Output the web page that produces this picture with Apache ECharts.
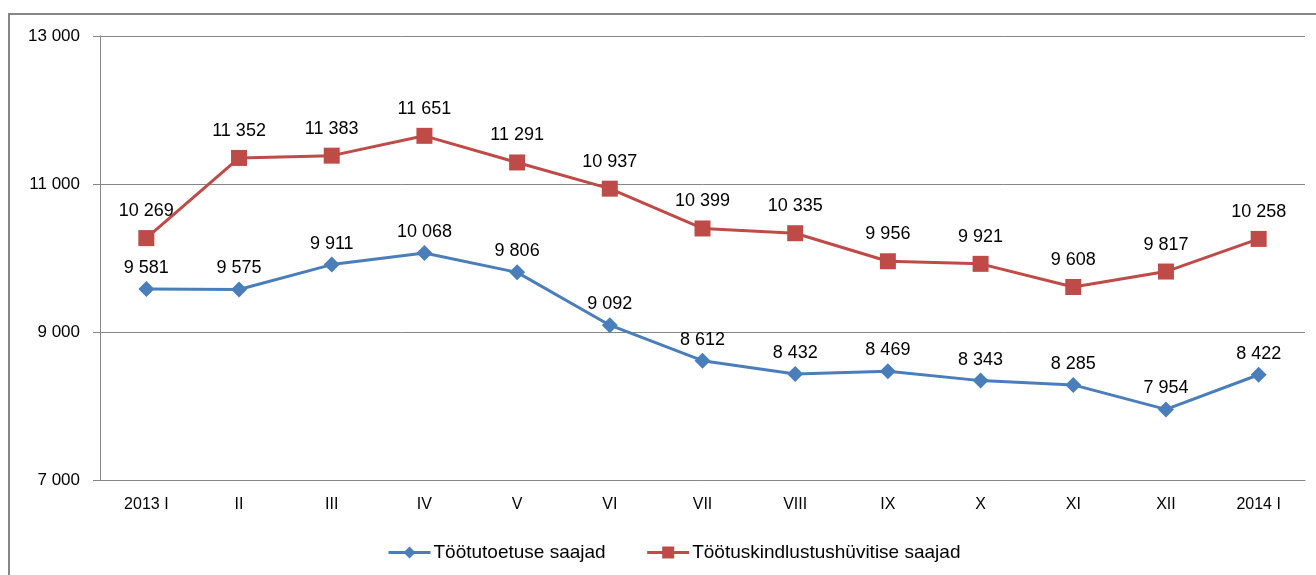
<!DOCTYPE html>
<html>
<head>
<meta charset="utf-8">
<script src="https://cdn.jsdelivr.net/npm/echarts@6/dist/echarts.min.js"></script>
<style>
  html, body { margin: 0; padding: 0; background: #fff; }
  #frame { position: absolute; left: 8px; top: 13px; width: 1320px; height: 580px; border-left: 2px solid #868686; border-top: 2px solid #868686; }
  #chart { position: absolute; left: 0; top: 0; width: 1316px; height: 575px; }
</style>
</head>
<body>
<div id="frame"></div>
<div id="chart"></div>
<script>
var categories = ['2013 I', 'II', 'III', 'IV', 'V', 'VI', 'VII', 'VIII', 'IX', 'X', 'XI', 'XII', '2014 I'];
var toetusValues = [9581, 9575, 9911, 10068, 9806, 9092, 8612, 8432, 8469, 8343, 8285, 7954, 8422];
var hyvitisValues = [10269, 11352, 11383, 11651, 11291, 10937, 10399, 10335, 9956, 9921, 9608, 9817, 10258];
var seriesNames = ['Töötutoetuse saajad', 'Töötuskindlustushüvitise saajad'];

function fmt(v) {
    // tühik tuhandete eraldajaks
    return String(v).replace(/\B(?=(\d{3})+(?!\d))/g, ' ');
}

var font = 'Liberation Sans';
var myChart = echarts.init(document.getElementById('chart'));
var option = {
    animation: false,
    textStyle: { fontFamily: font },
    grid: { left: 100, right: 11, top: 36, bottom: 95 },
    legend: {
        bottom: 8,
        left: 382,
        itemWidth: 42,
        itemHeight: 15,
        itemGap: 40,
        lineStyle: { width: 3 },
        textStyle: { fontSize: 19, color: '#000', fontFamily: font, padding: [0, 0, 0, -2] },
        data: seriesNames
    },
    xAxis: {
        type: 'category',
        data: categories,
        axisLine: { lineStyle: { color: '#868686', width: 1 } },
        axisTick: { length: 5, lineStyle: { color: '#868686' } },
        axisLabel: { color: '#000', fontSize: 16, margin: 17, fontFamily: font }
    },
    yAxis: {
        type: 'value',
        min: 7000,
        max: 13000,
        interval: 2000,
        axisLine: { show: true, lineStyle: { color: '#868686', width: 1 } },
        axisTick: { show: true, length: 7, lineStyle: { color: '#868686' } },
        splitLine: { lineStyle: { color: '#868686', width: 1 } },
        axisLabel: { color: '#000', fontSize: 17, margin: 20, fontFamily: font, formatter: fmt }
    },
    series: [
        {
            name: seriesNames[0],
            type: 'line',
            data: toetusValues,
            symbol: 'diamond',
            symbolSize: 16,
            lineStyle: { color: '#4A7EBB', width: 3 },
            itemStyle: { color: '#4A7EBB' },
            label: { show: true, position: 'top', distance: 4, color: '#000', fontSize: 18, fontFamily: font,
                formatter: function (p) { return fmt(p.value); } }
        },
        {
            name: seriesNames[1],
            type: 'line',
            data: hyvitisValues,
            symbol: 'rect',
            symbolSize: 16,
            lineStyle: { color: '#BE4B48', width: 3 },
            itemStyle: { color: '#BE4B48' },
            label: { show: true, position: 'top', distance: 10, color: '#000', fontSize: 18, fontFamily: font,
                formatter: function (p) { return fmt(p.value); } }
        }
    ]
};
myChart.setOption(option);
</script>
</body>
</html>
